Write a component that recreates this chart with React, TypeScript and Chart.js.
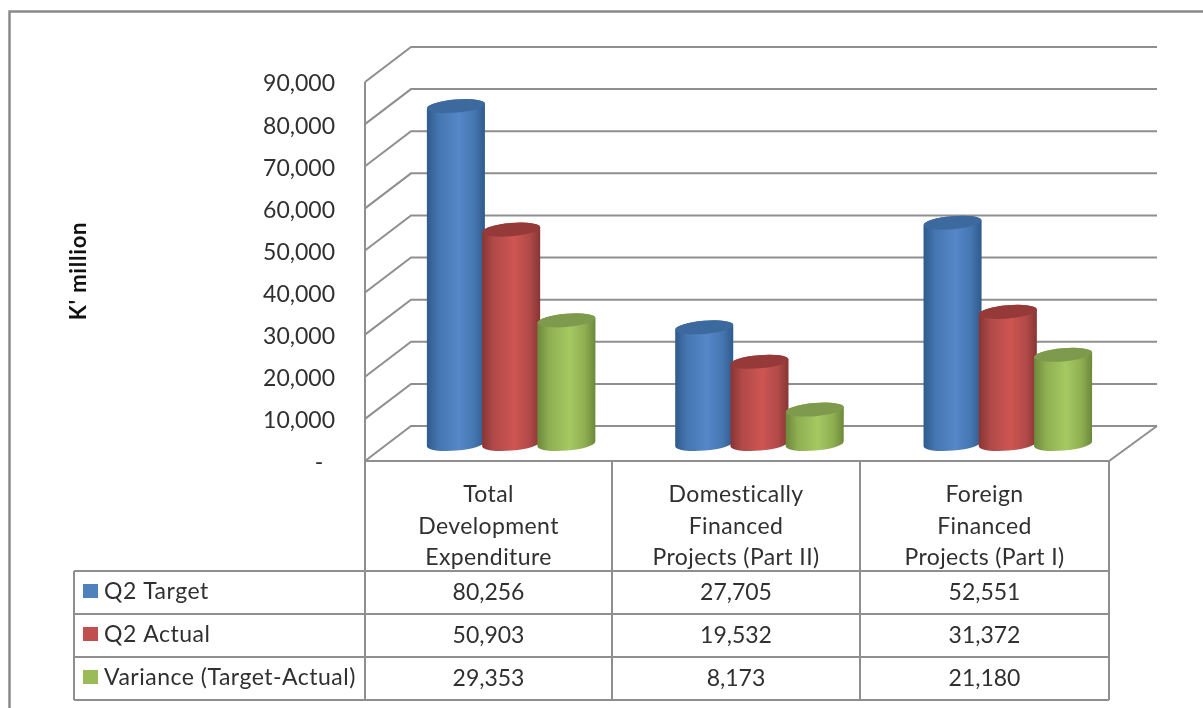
import React, { useEffect, useRef } from "react";
import { Chart, registerables } from "chart.js";

Chart.register(...registerables);

const categories = ["Total Development Expenditure", "Domestically Financed Projects (Part II)", "Foreign Financed Projects (Part I)"];
const categoryLines = [
  ["Total", "Development", "Expenditure"],
  ["Domestically", "Financed", "Projects (Part II)"],
  ["Foreign", "Financed", "Projects (Part I)"],
];
const seriesNames = ["Q2 Target", "Q2 Actual", "Variance (Target-Actual)"];
const q2Target = [80256, 27705, 52551];
const q2Actual = [50903, 19532, 31372];
const variance = [29353, 8173, 21180];
const seriesValues = [q2Target, q2Actual, variance];
const legendColors = ["#4F81BD", "#C0504D", "#9BBB59"];
const edgeColors = ["#2F5A8C", "#883533", "#6C883B"];
const shoulderColors = ["#4576B0", "#B04A48", "#8FAE51"];
const midColors = ["#5587C9", "#CE5552", "#A6C962"];
const topColors = ["#3C6A9E", "#953A38", "#7E9A4C"];
const tickStep = 10000;
const axisMax = 90000;

const FONT = "Lato, 'Noto Sans', sans-serif";
const TEXT = "#303030";
const LINE = "#8f8f8f";

const fmt = (v: number) => v.toLocaleString("en-US");

const chart3d = {
  id: "chart3d",
  beforeDatasetsDraw(chart: any) {
    const { ctx, scales: { y }, chartArea } = chart;
    const fx = chartArea.left - 22;
    const bx = chartArea.left + 24;
    const ex = chartArea.right + 25;
    const fo = 17;
    const bo = -18;
    ctx.save();
    ctx.strokeStyle = LINE;
    ctx.lineWidth = 2;
    for (let v = 0; v <= axisMax; v += tickStep) {
      const p = y.getPixelForValue(v);
      ctx.beginPath();
      ctx.moveTo(fx, p + fo);
      ctx.lineTo(bx, p + bo);
      ctx.lineTo(ex, p + bo);
      ctx.stroke();
    }
    const z = y.getPixelForValue(0);
    const tt = y.getPixelForValue(axisMax);
    ctx.beginPath();
    ctx.moveTo(fx, tt + fo);
    ctx.lineTo(fx, z + fo);
    ctx.moveTo(fx, z + fo);
    ctx.lineTo(ex - 48, z + fo);
    ctx.lineTo(ex, z + bo);
    ctx.stroke();
    ctx.restore();
  },
  afterDatasetsDraw(chart: any) {
    const { ctx } = chart;
    const rot = -0.085;
    const ry = 6.6;
    seriesValues.forEach((_, s) => {
      chart.getDatasetMeta(s).data.forEach((bar: any) => {
        const cx = bar.x;
        const rx = bar.width / 2 + 1.4;
        const top = bar.y;
        const base = bar.base;
        const dy = Math.sin(-rot) * rx;
        const g = ctx.createLinearGradient(cx - rx, 0, cx + rx, 0);
        g.addColorStop(0, edgeColors[s]);
        g.addColorStop(0.2, shoulderColors[s]);
        g.addColorStop(0.55, midColors[s]);
        g.addColorStop(0.82, shoulderColors[s]);
        g.addColorStop(1, edgeColors[s]);
        ctx.save();
        ctx.fillStyle = g;
        ctx.beginPath();
        ctx.moveTo(cx - rx, top + dy);
        ctx.lineTo(cx - rx, base + dy);
        ctx.ellipse(cx, base, rx, ry, rot, Math.PI, 0, true);
        ctx.lineTo(cx + rx, top - dy);
        ctx.ellipse(cx, top, rx, ry, rot, 0, Math.PI, true);
        ctx.closePath();
        ctx.fill();
        ctx.fillStyle = topColors[s];
        ctx.beginPath();
        ctx.ellipse(cx, top, rx, ry, rot, 0, Math.PI * 2);
        ctx.fill();
        ctx.restore();
      });
    });
  },
  afterDraw(chart: any) {
    const { ctx } = chart;
    const cols = [365, 612, 860, 1109];
    const rows = [571, 614, 657, 700];
    ctx.save();
    // chart frame
    ctx.strokeStyle = "#8a8a8a";
    ctx.lineWidth = 2.5;
    ctx.beginPath();
    ctx.moveTo(9.5, 708);
    ctx.lineTo(9.5, 11.5);
    ctx.lineTo(1203, 11.5);
    ctx.stroke();
    // table grid
    ctx.strokeStyle = LINE;
    ctx.lineWidth = 2;
    ctx.beginPath();
    cols.forEach((x) => { ctx.moveTo(x, 461); ctx.lineTo(x, 700); });
    rows.forEach((r) => { ctx.moveTo(74, r); ctx.lineTo(1109, r); });
    ctx.moveTo(74, 571); ctx.lineTo(74, 700);
    ctx.stroke();
    // text
    ctx.fillStyle = TEXT;
    ctx.textBaseline = "middle";
    ctx.font = `23px ${FONT}`;
    ctx.textAlign = "center";
    categoryLines.forEach((lines, c) => {
      const cx = (cols[c] + cols[c + 1]) / 2;
      ctx.letterSpacing = "0.4px";
      lines.forEach((t, i) => ctx.fillText(t, cx, 495 + i * 31.5));
      ctx.letterSpacing = "0px";
      seriesValues.forEach((vals, s) => ctx.fillText(fmt(vals[c]), cx, 593 + s * 43));
    });
    ctx.textAlign = "left";
    ctx.letterSpacing = "0.5px";
    seriesNames.forEach((n, s) => {
      ctx.fillStyle = legendColors[s];
      ctx.fillRect(83, 584 + s * 43, 15, 14);
      ctx.fillStyle = TEXT;
      ctx.fillText(n, 104, 592 + s * 43);
    });
    // axis title
    ctx.translate(79, 271);
    ctx.rotate(-Math.PI / 2);
    ctx.textAlign = "center";
    ctx.fillStyle = "#111";
    ctx.font = `bold 22px ${FONT}`;
    ctx.letterSpacing = "0.8px";
    ctx.fillText("K' million", 0, 0);
    ctx.letterSpacing = "0px";
    ctx.restore();
  },
};

export default function App() {
  const ref = useRef<HTMLCanvasElement>(null);
  useEffect(() => {
    const chart = new Chart(ref.current!, {
      type: "bar",
      data: {
        labels: categories,
        datasets: seriesNames.map((label, s) => ({
          label,
          data: seriesValues[s],
          backgroundColor: legendColors[s],
          borderRadius: { topLeft: 12, topRight: 12, bottomLeft: 0, bottomRight: 0 },
          categoryPercentage: 0.6676,
          barPercentage: 1,
        })),
      },
      options: {
        responsive: false,
        animation: false,
        layout: { padding: { left: 0, right: 71, top: 65, bottom: 264 } },
        plugins: { legend: { display: false }, title: { display: false }, tooltip: { enabled: false } },
        scales: {
          x: { display: false },
          y: {
            min: 0,
            max: axisMax,
            grid: { display: false },
            border: { display: false },
            afterFit: (s: any) => { s.width = 387; },
            ticks: {
              stepSize: tickStep,
              padding: 44,
              labelOffset: 19,
              color: TEXT,
              font: { family: FONT, size: 23 },
              callback: (v: any) => (v === 0 ? "-  " : fmt(Number(v))),
            },
          },
        },
      },
      plugins: [chart3d],
    } as any);
    return () => chart.destroy();
  }, []);
  return (
    <div style={{ position: "fixed", left: 0, top: 0, width: 1203, height: 708, background: "#fff" }}>
      <canvas ref={ref} width={1203} height={708} style={{ display: "block", filter: "blur(0.4px)" }} />
    </div>
  );
}
